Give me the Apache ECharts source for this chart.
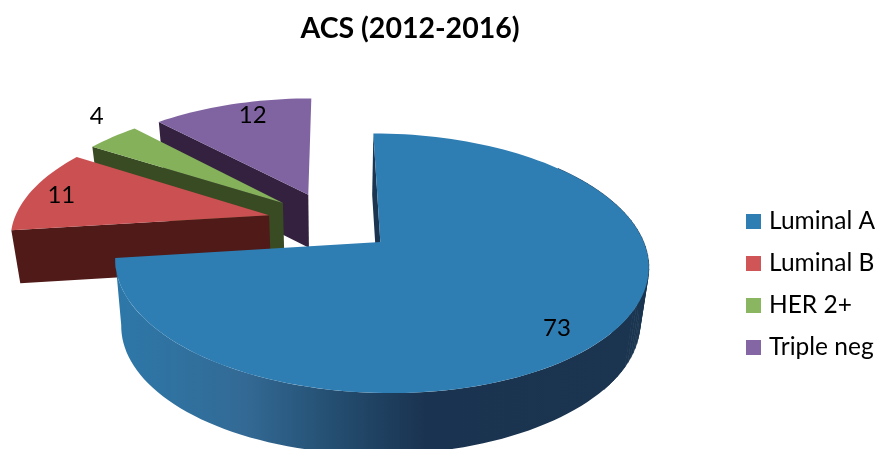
<!DOCTYPE html>
<html><head><meta charset="utf-8">
<style>html,body{margin:0;padding:0;background:#fff}#c{width:878px;height:449px}</style>
<script src="https://cdn.jsdelivr.net/npm/echarts@6/dist/echarts.min.js"></script>
</head><body><div id="c"></div>
<script>
const titleText = 'ACS (2012-2016)';
const categories = ['Luminal A', 'Luminal B', 'HER 2+', 'Triple neg'];
const values = [73, 11, 4, 12];
const topColors = ['#2E7DB3', '#CB5052', '#84B15A', '#8064A1'];
const legendColors = ['#2E7DB3', '#CF5557', '#8AB661', '#8466A4'];
const wallColors = ['#1B3550', '#4F1A17', '#394B23', '#33213F'];
const labelRadius = [0.846, 0.865, 1.228, 0.848];
const labelAngle = [136.3, 281.3, 314.7, 341.8];

// 3D pie camera
const CX = 331, CY = 221.6, RX = 256, RY = 119.7, PERSP = 0.16, PERSP_X = 0.001, EXPLODE = 0.25;
const DEPTH_SCALE = 0.972, FONT = 'Lato, Carlito, sans-serif';
const total = values.reduce((a, b) => a + b, 0);
const rad = d => d * Math.PI / 180;

function project(u, v, down, tilt) {
  const s = 1 / (1 - PERSP * v - PERSP_X * u);
  let x = CX + RX * u * s, y = CY + RY * v * s;
  if (down) {
    const d = down + (tilt || 0) * (x - 400);
    x = CX + (x - CX) * DEPTH_SCALE;
    y = y + d;
  }
  return [x, y];
}

function renderSlice(idx, api) {
  const value = api.value(0);
  let sum = 0;
  for (let i = 0; i < idx; i++) sum += values[i];
  const a0 = sum / total * 360, a1 = (sum + value) / total * 360, mid = (a0 + a1) / 2;
  const ou = EXPLODE * Math.sin(rad(mid)), ov = -EXPLODE * Math.cos(rad(mid));
  const down = idx === 0 ? 61 : 53, tilt = idx === 0 ? -0.02 : 0;
  const onDisc = (ang, r, dn) =>
    project(ou + r * Math.sin(rad(ang)), ov - r * Math.cos(rad(ang)), dn ? down : 0, tilt);
  const arc = (from, to, dn) => {
    const pts = [], n = Math.max(8, Math.ceil(Math.abs(to - from) / 2));
    for (let i = 0; i <= n; i++) pts.push(onDisc(from + (to - from) * i / n, 1, dn));
    return pts;
  };
  const children = [];
  const poly = (points, fill) => children.push({
    type: 'polygon', shape: { points }, style: { fill, stroke: null }, silent: true
  });
  if (idx === 0) {
    // silhouette at the right edge of the rim
    for (let a = 50; a < 130; a += 2) {
      children.push({
        type: 'polygon', silent: true,
        shape: { points: [onDisc(a, 1, false), onDisc(a + 2, 1, false), onDisc(a + 2, 1, true), onDisc(a, 1, true)] },
        style: { fill: wallColors[0], stroke: wallColors[0], lineWidth: 0.6 }
      });
    }
    // front rim wall
    const grad = {
      type: 'linear', x: 116, y: 0, x2: 650, y2: 0, global: true,
      colorStops: [
        { offset: 0, color: '#2D78A9' }, { offset: 0.24, color: '#336A95' },
        { offset: 0.42, color: '#234C6E' }, { offset: 0.58, color: '#1A3350' },
        { offset: 1, color: '#1B3550' }
      ]
    };
    poly(arc(120, a1, false).concat(arc(a1, 120, true)), grad);
  }
  // radial wall at the slice's starting edge
  poly([onDisc(a0, 1, false), onDisc(a0, 0, false), onDisc(a0, 0, true), onDisc(a0, 1, true)], wallColors[idx]);
  // top face
  poly([onDisc(a0, 0, false)].concat(arc(a0, a1, false)), topColors[idx]);
  // value label
  const lp = onDisc(labelAngle[idx], labelRadius[idx], false);
  children.push({
    type: 'text', x: lp[0], y: lp[1], silent: true, z2: 10,
    style: { text: String(value), font: '24px ' + FONT, fill: '#000', align: 'center', verticalAlign: 'middle' }
  });
  return { type: 'group', children };
}

const chart = echarts.init(document.getElementById('c'));
chart.setOption({
  animation: false,
  title: {
    text: titleText, left: 405, top: 9, textAlign: 'center',
    textStyle: { fontFamily: FONT, fontWeight: 'bold', fontSize: 28.5, color: '#000' }
  },
  legend: {
    orient: 'vertical', left: 741, top: 204, itemWidth: 15, itemHeight: 15, itemGap: 17,
    icon: 'rect', selectedMode: false,
    textStyle: { fontFamily: FONT, fontSize: 24.5, lineHeight: 24, color: '#000', padding: [0, 0, 0, 3] },
    data: categories.map((name, i) => ({ name, itemStyle: { color: legendColors[i] } }))
  },
  // drawn back to front
  series: categories.map((name, i) => ({
    type: 'custom', name, coordinateSystem: 'none',
    z: [40, 30, 20, 10][i], clip: false,
    itemStyle: { color: legendColors[i] },
    data: [[values[i]]],
    renderItem: (params, api) => renderSlice(i, api)
  }))
});
</script></body></html>
